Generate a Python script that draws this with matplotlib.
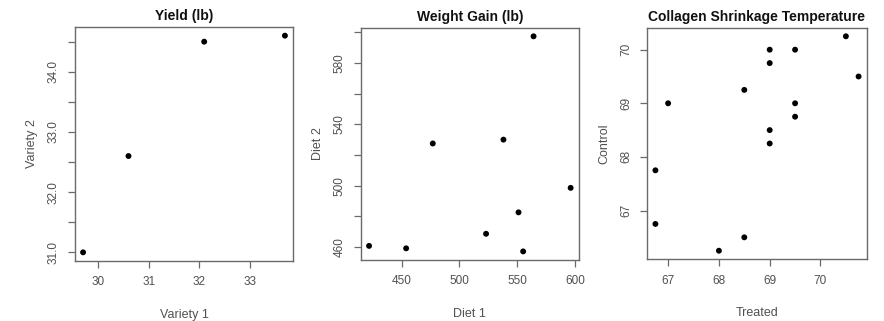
import matplotlib
matplotlib.use("Agg")
import matplotlib.pyplot as plt
import numpy as np

plt.rcParams['font.family'] = ['Liberation Sans', 'DejaVu Sans']

# Panel 1: Yield (lb)
yield_v1 = [29.7, 30.6, 32.1, 33.7]
yield_v2 = [31.0, 32.6, 34.5, 34.6]
yield_yticks = [31.0, 31.5, 32.0, 32.5, 33.0, 33.5, 34.0, 34.5]
yield_ylabels = ["31.0", "", "32.0", "", "33.0", "", "34.0", ""]
yield_xticks = [30, 31, 32, 33]

# Panel 2: Weight Gain (lb)
diet1 = [422, 454, 477, 523, 538, 551, 555, 564, 596]
diet2 = [460.6, 459, 527.5, 468.5, 530, 482.5, 457, 597.5, 498.5]
wg_yticks = [460, 480, 500, 520, 540, 560, 580, 600]
wg_ylabels = ["460", "", "500", "", "540", "", "580", ""]
wg_xticks = [450, 500, 550, 600]

# Panel 3: Collagen Shrinkage Temperature
treated = [66.75, 66.75, 67.0, 68.0, 68.5, 68.5, 69.0, 69.0, 69.0, 69.0,
           69.5, 69.5, 69.5, 70.5, 70.75]
control = [67.75, 66.75, 69.0, 66.25, 69.25, 66.5, 70.0, 69.75, 68.5, 68.25,
           70.0, 69.0, 68.75, 70.25, 69.5]
col_yticks = [67, 68, 69, 70]
col_xticks = [67, 68, 69, 70]

panels = [
    dict(x=yield_v1, y=yield_v2, title="Yield (lb)", xlabel="Variety 1", ylabel="Variety 2",
         xticks=yield_xticks, xlabels=[str(t) for t in yield_xticks],
         yticks=yield_yticks, ylabels=yield_ylabels,
         pos=[75, 261, 293, 27]),
    dict(x=diet1, y=diet2, title="Weight Gain (lb)", xlabel="Diet 1", ylabel="Diet 2",
         xticks=wg_xticks, xlabels=[str(t) for t in wg_xticks],
         yticks=wg_yticks, ylabels=wg_ylabels,
         pos=[361, 260, 578.7, 27.7]),
    dict(x=treated, y=control, title="Collagen Shrinkage Temperature", xlabel="Treated", ylabel="Control",
         xticks=col_xticks, xlabels=[str(t) for t in col_xticks],
         yticks=col_yticks, ylabels=[str(t) for t in col_yticks],
         pos=[647.3, 259.3, 866.7, 27.7]),
]

W, H = 884, 321
fig = plt.figure(figsize=(W / 100, H / 100), dpi=100)

box_col = "#6a6a6a"
txt_col = "#505050"

def rlim(v):
    lo, hi = min(v), max(v)
    r = hi - lo
    return lo - 0.04 * r, hi + 0.04 * r

for p in panels:
    l, b, r, t = p["pos"]
    ax = fig.add_axes([l / W, 1 - b / H, (r - l) / W, (b - t) / H])
    ax.scatter(p["x"], p["y"], s=18, color="black", edgecolors="none", zorder=3)
    ax.set_xlim(*rlim(p["x"]))
    ax.set_ylim(*rlim(p["y"]))
    ax.set_xticks(p["xticks"])
    ax.set_xticklabels(p["xlabels"])
    ax.set_yticks(p["yticks"])
    ax.set_yticklabels(p["ylabels"], rotation=90, va="center")
    ax.tick_params(direction="out", length=5, width=0.9, colors=box_col,
                   labelcolor=txt_col, labelsize=8.5, pad=6)
    for s in ax.spines.values():
        s.set_color(box_col)
        s.set_linewidth(1.0)
    ax.set_title(p["title"], fontsize=10, fontweight="bold", color="#111111", pad=5)
    ax.set_xlabel(p["xlabel"], fontsize=9, color=txt_col, labelpad=15)
    ax.set_ylabel(p["ylabel"], fontsize=9, color=txt_col, labelpad=7)

fig.savefig("out.png", dpi=100)
